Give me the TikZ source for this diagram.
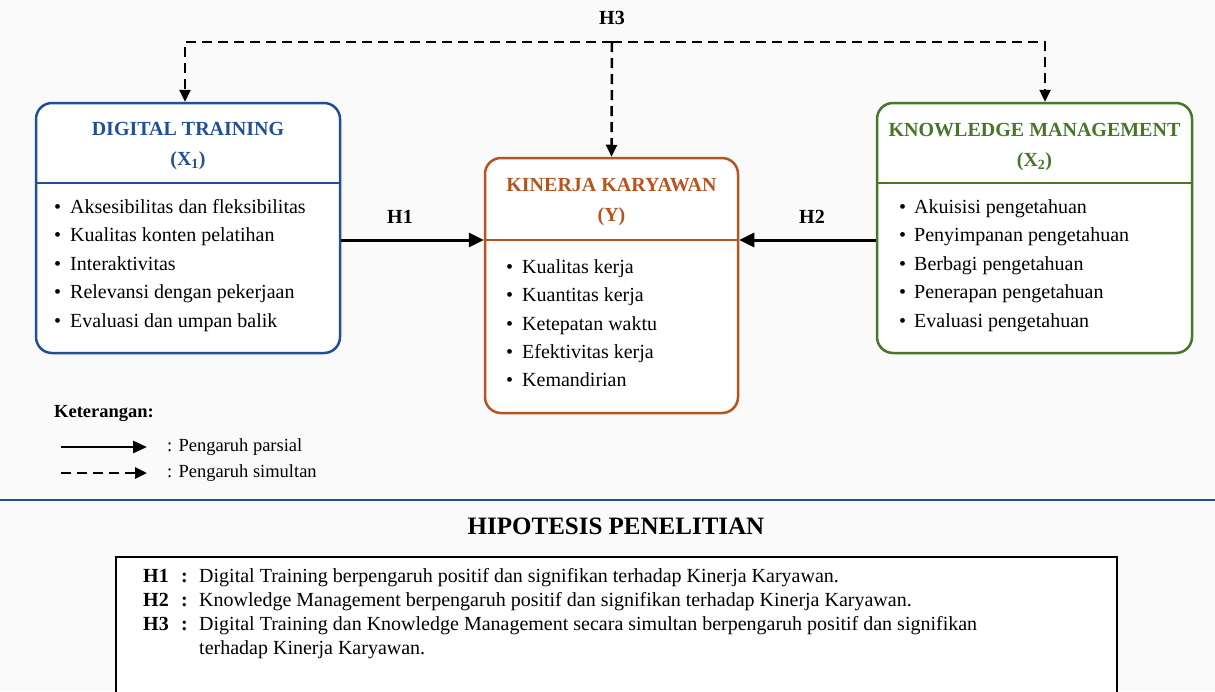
\documentclass[tikz,border=0pt]{standalone}
\usepackage{fontspec}
\setmainfont{Liberation Serif}
\usetikzlibrary{arrows.meta}
\definecolor{dtblue}{RGB}{32,78,152}
\definecolor{kyorange}{RGB}{182,84,32}
\definecolor{kmgreen}{RGB}{70,118,38}
\definecolor{pagebg}{RGB}{250,250,250}
\tikzset{
  varbox/.style={draw=#1, line width=2.5pt, rounded corners=16pt, fill=white},
  vartitle/.style={text=#1, font=\fontsize{20}{29.5}\selectfont\bfseries, align=center, inner sep=0pt},
  splitline/.style={draw=#1, line width=1.4pt},
  indicator/.style={anchor=west, inner sep=0pt, text height=14pt, text depth=4.5pt,
    font=\fontsize{20}{24}\selectfont},
  hlabel/.style={font=\fontsize{20}{24}\selectfont\bfseries, inner sep=0pt},
  partial/.style={line width=3pt, -{Triangle[length=15pt,width=14pt]}},
  simult/.style={line width=2.5pt, dash pattern=on 10pt off 6pt},
  simultend/.style={simult, -{Triangle[length=12pt,width=11pt]}},
  legendtext/.style={anchor=west, inner sep=0pt, font=\fontsize{18.5}{22}\selectfont},
  hypline/.style={anchor=west, inner sep=0pt, text height=14pt, text depth=4.5pt,
    font=\fontsize{20}{24}\selectfont},
}
\begin{document}
\begin{tikzpicture}[x=1pt, y=-1pt]
    \useasboundingbox (0,0) rectangle (1215,691);
    \fill[pagebg] (0,0) rectangle (1215,691);

    \node[varbox=dtblue, minimum width=304pt, minimum height=250pt] (dt) at (188,228) {};
    \node[vartitle=dtblue] (dttitle) at (188,146) {DIGITAL TRAINING\\(X\textsubscript{1})};
    \draw[splitline=dtblue] (dt.west |- 0,183) -- (dt.east |- 0,183);
    \foreach \t [count=\i] in {Aksesibilitas dan fleksibilitas, Kualitas konten pelatihan,
        Interaktivitas, Relevansi dengan pekerjaan, Evaluasi dan umpan balik}
      \node[indicator] (dti\i) at (54,{180+28.5*\i}) {\makebox[16pt][l]{\textbullet}\t};

    \node[varbox=kyorange, minimum width=253pt, minimum height=255pt] (ky) at (611.5,285.5) {};
    \node[vartitle=kyorange] (kytitle) at (611.5,202) {KINERJA KARYAWAN\\(Y)};
    \coordinate (kysplit) at (611.5,240);
    \draw[splitline=kyorange] (ky.west |- kysplit) -- (ky.east |- kysplit);
    \foreach \t [count=\i] in {Kualitas kerja, Kuantitas kerja, Ketepatan waktu,
        Efektivitas kerja, Kemandirian}
      \node[indicator] (kyi\i) at (506,{240.5+28.25*\i}) {\makebox[16pt][l]{\textbullet}\t};

    \node[varbox=kmgreen, minimum width=315pt, minimum height=250pt] (km) at (1034.5,228) {};
    \node[vartitle=kmgreen] (kmtitle) at (1034.5,147) {KNOWLEDGE MANAGEMENT\\(X\textsubscript{2})};
    \draw[splitline=kmgreen] (km.west |- 0,183) -- (km.east |- 0,183);
    \foreach \t [count=\i] in {Akuisisi pengetahuan, Penyimpanan pengetahuan,
        Berbagi pengetahuan, Penerapan pengetahuan, Evaluasi pengetahuan}
      \node[indicator] (kmi\i) at (899,{180+28.5*\i}) {\makebox[15pt][l]{\textbullet}\t};

    \draw[partial] (dt.east |- kysplit) -- (ky.west |- kysplit);
    \draw[partial] (km.west |- kysplit) -- (ky.east |- kysplit);
    \node[hlabel] (h1) at (400,217) {H1};
    \node[hlabel] (h2) at (812,217) {H2};

    \coordinate (h3l) at (185,42);
    \coordinate (h3m) at (612,42);
    \coordinate (h3r) at (1045,42);
    \node[hlabel] (h3) at (612,18) {H3};
    \draw[simultend] (h3m) -- (h3l) -- (h3l |- dt.north);
    \draw[simultend] (h3m) -- (h3r) -- (h3r |- km.north);
    \draw[simultend] (h3m) -- (ky.north);

    \node[legendtext, font=\fontsize{18.5}{22}\selectfont\bfseries] (ket) at (54,413) {Keterangan:};
    \coordinate (pa) at (61,447);
    \coordinate (pb) at (147,447);
    \coordinate (sa) at (61,473);
    \coordinate (sb) at (147,473);
    \draw[line width=2.8pt, -{Triangle[length=14pt,width=12pt]}] (pa) -- (pb);
    \draw[line width=2.8pt, dash pattern=on 10pt off 6pt, -{Triangle[length=12pt,width=11pt]}] (sa) -- (sb);
    \node[legendtext] (ketpa) at (167,447) {: Pengaruh parsial};
    \node[legendtext] (ketsi) at (167,473) {: Pengaruh simultan};

    \draw[dtblue, line width=1.5pt] (0,500) -- (1215,500);

    \node[font=\fontsize{25}{30}\selectfont\bfseries] (hiptitle) at (616,526) {HIPOTESIS PENELITIAN};
    \draw[line width=1.8pt, fill=white] (116,557) rectangle (1117,720);
    \foreach \h/\y/\t in {H1/578/Digital Training berpengaruh positif dan signifikan terhadap Kinerja Karyawan.,
        H2/602/Knowledge Management berpengaruh positif dan signifikan terhadap Kinerja Karyawan.,
        H3/626/Digital Training dan Knowledge Management secara simultan berpengaruh positif dan signifikan}{
      \node[hypline, font=\fontsize{20}{24}\selectfont\bfseries] (hyp\h) at (143,\y) {\h};
      \node[hypline, font=\fontsize{20}{24}\selectfont\bfseries] (col\h) at (181,\y) {:};
      \node[hypline] (txt\h) at (199,\y) {\t};
    }
    \node[hypline] (txtH3b) at (199,650) {terhadap Kinerja Karyawan.};
\end{tikzpicture}
\end{document}
